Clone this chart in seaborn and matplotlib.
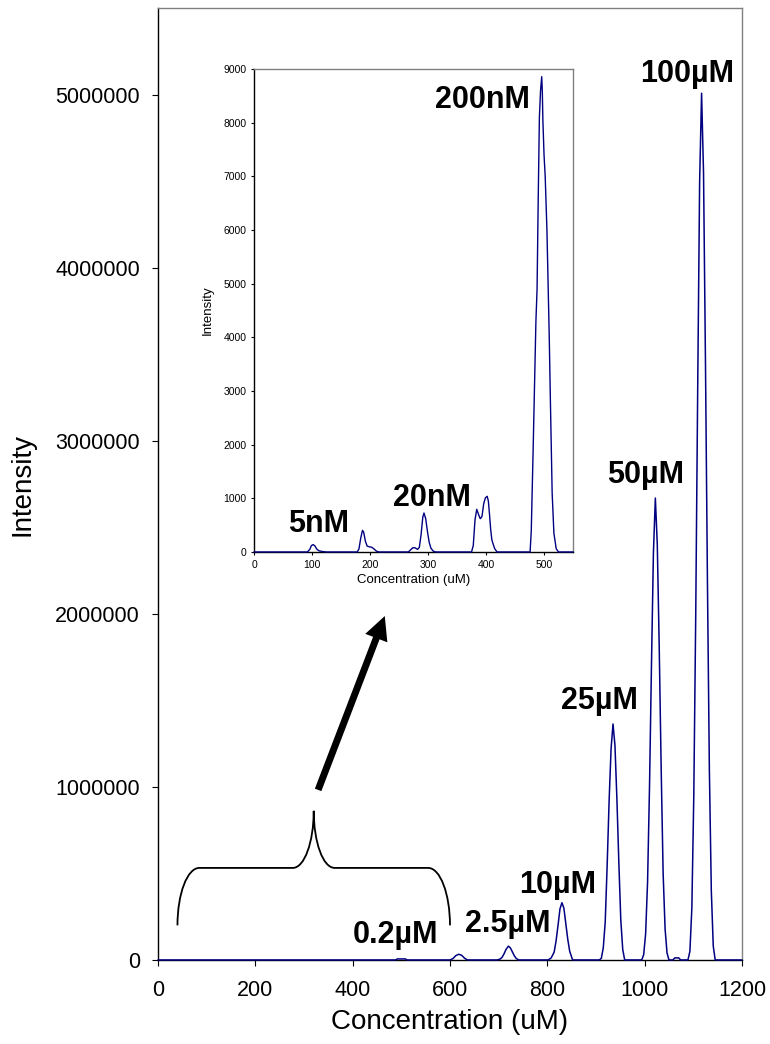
import matplotlib
matplotlib.use("Agg")
import matplotlib.pyplot as plt
import numpy as np
import pandas as pd
import seaborn as sns
from matplotlib.patches import FancyArrowPatch, PathPatch, ArrowStyle
from matplotlib.path import Path
from matplotlib.ticker import FuncFormatter

# ---------------- main electropherogram (0.2 uM .. 100 uM) ----------------
main_start_x = [0]
main_start_y = [0]
peak_02uM_x = [488, 492, 508, 512]
peak_02uM_y = [0, 6000, 6000, 0]
peak_06uM_x = [600, 606, 612, 618, 624, 630, 636]
peak_06uM_y = [0, 8000, 25000, 33000, 27000, 10000, 0]
peak_25uM_x = [697, 703, 707, 711, 715, 720, 724, 728, 732, 736, 741]
peak_25uM_y = [0, 5000, 15000, 35000, 60000, 80000, 70000, 48000, 25000, 9000, 0]
peak_10uM_x = [802, 808, 814, 818, 822, 826, 830, 834, 838, 842, 846, 852]
peak_10uM_y = [0, 12000, 45000, 110000, 200000, 295000, 331000, 300000,
               210000, 120000, 50000, 0]
peak_250uM_x = [907, 911, 915, 919, 923, 927, 931, 935, 939, 943, 947, 951,
                955, 959]
peak_250uM_y = [0, 10000, 70000, 220000, 550000, 920000, 1220000, 1364000,
                1240000, 930000, 560000, 230000, 60000, 0]
peak_500uM_x = [994, 998, 1002, 1006, 1010, 1014, 1018, 1022, 1026, 1030,
                1034, 1038, 1042, 1046, 1050]
peak_500uM_y = [0, 30000, 150000, 450000, 1000000, 1700000, 2350000, 2670000,
                2400000, 1800000, 1100000, 500000, 180000, 40000, 0]
peak_blip_x = [1058, 1062, 1070, 1074]
peak_blip_y = [0, 12000, 12000, 0]
peak_100uM_x = [1089, 1093, 1097, 1101, 1105, 1109, 1113, 1117, 1121, 1125,
                1129, 1133, 1137, 1141, 1145]
peak_100uM_y = [0, 50000, 300000, 950000, 2000000, 3300000, 4500000, 5010000,
                4550000, 3450000, 2200000, 1100000, 400000, 80000, 0]
main_end_x = [1200]
main_end_y = [0]

main_labels = ["0.2µM", "2.5µM", "10µM", "25µM", "50µM", "100µM"]
main_label_x = [489, 719, 822, 908, 1001, 1087]
main_label_y = [98000, 162000, 387000, 1451000, 2757000, 5075000]

# ---------------- inset (5 nM .. 200 nM) ----------------
inset_start_x = [0]
inset_start_y = [0]
peak_5nM_x = [92, 96, 99, 102, 105, 108, 112, 118, 125]
peak_5nM_y = [0, 45, 120, 137, 112, 55, 22, 8, 0]
peak_10nM_x = [178, 181, 184, 187, 189, 192, 195, 199, 203, 207, 211, 215]
peak_10nM_y = [0, 60, 260, 403, 370, 200, 110, 95, 88, 55, 15, 0]
peak_20nM_x = [266, 270, 274, 278, 282, 285, 288, 291, 293, 296, 299, 302,
               305, 309, 313]
peak_20nM_y = [0, 40, 80, 75, 48, 85, 320, 650, 726, 620, 380, 180, 70, 15, 0]
peak_50nM_x = [375, 378, 381, 384, 387, 390, 393, 396, 399, 402, 404, 406,
               408, 410, 412, 415, 419]
peak_50nM_y = [0, 120, 600, 795, 700, 620, 660, 900, 1010, 1037, 950, 700,
               420, 230, 155, 60, 0]
peak_200nM_x = [476, 478, 481, 484, 486, 488, 490, 492, 494, 496, 497, 498,
                500, 502, 505, 507, 509, 511, 514, 517, 521, 525]
peak_200nM_y = [0, 400, 1800, 3300, 4300, 4900, 6600, 8100, 8600, 8857, 8600,
                8050, 7400, 7000, 6000, 5000, 4000, 2800, 1100, 350, 60, 0]
inset_end_x = [550]
inset_end_y = [0]

inset_labels = ["5nM", "20nM", "200nM"]
inset_label_x = [112, 306, 393]
inset_label_y = [373, 857, 8273]

main_ticks_x = [0, 200, 400, 600, 800, 1000, 1200]
main_ticks_y = [0, 1000000, 2000000, 3000000, 4000000, 5000000]
inset_ticks_x = [0, 100, 200, 300, 400, 500]
inset_ticks_y = [0, 1000, 2000, 3000, 4000, 5000, 6000, 7000, 8000, 9000]

NAVY = "#000080"
GREY = "#808080"

main_df = pd.DataFrame({
    "conc": np.concatenate([main_start_x, peak_02uM_x, peak_06uM_x, peak_25uM_x,
                            peak_10uM_x, peak_250uM_x, peak_500uM_x,
                            peak_blip_x, peak_100uM_x, main_end_x]),
    "intensity": np.concatenate([main_start_y, peak_02uM_y, peak_06uM_y,
                                 peak_25uM_y, peak_10uM_y, peak_250uM_y,
                                 peak_500uM_y, peak_blip_y, peak_100uM_y,
                                 main_end_y]),
})
inset_df = pd.DataFrame({
    "conc": np.concatenate([inset_start_x, peak_5nM_x, peak_10nM_x, peak_20nM_x,
                            peak_50nM_x, peak_200nM_x, inset_end_x]),
    "intensity": np.concatenate([inset_start_y, peak_5nM_y, peak_10nM_y,
                                 peak_20nM_y, peak_50nM_y, peak_200nM_y,
                                 inset_end_y]),
})

sns.set_theme(style="white", rc={"text.color": "black",
                                 "axes.labelcolor": "black",
                                 "xtick.color": "black",
                                 "ytick.color": "black"})
plt.rcParams["font.family"] = ["Liberation Sans", "DejaVu Sans"]

fig = plt.figure(figsize=(7.7, 10.44), dpi=100)
fig.patch.set_facecolor("white")


def style_axes(ax, tick_len, tick_size):
    for side in ("left", "bottom"):
        ax.spines[side].set_color("black")
        ax.spines[side].set_linewidth(1.0)
    for side in ("top", "right"):
        ax.spines[side].set_color(GREY)
        ax.spines[side].set_linewidth(1.0)
    ax.tick_params(axis="both", which="major", direction="out", bottom=True,
                   left=True, top=False, right=False, length=tick_len,
                   width=0.8, color="black", labelsize=tick_size,
                   labelcolor="black")
    ax.grid(False)


int_fmt = FuncFormatter(lambda v, _: f"{int(round(v))}")

# main axes
ax = fig.add_axes([0.2052, 0.0805, 0.7584, 0.9114])
sns.lineplot(data=main_df, x="conc", y="intensity", estimator=None, sort=False,
             color=NAVY, linewidth=1.1, ax=ax, clip_on=False, zorder=3)
ax.set_xlim(0, 1200)
ax.set_ylim(0, 5500000)
ax.set_xticks(main_ticks_x)
ax.set_yticks(main_ticks_y)
ax.xaxis.set_major_formatter(int_fmt)
ax.yaxis.set_major_formatter(int_fmt)
style_axes(ax, 4.5, 15.5)
ax.tick_params(axis="x", pad=10)
ax.tick_params(axis="y", pad=8.5)
ax.set_xlabel("Concentration (uM)", fontsize=20, labelpad=6)
ax.set_ylabel("Intensity", fontsize=20, labelpad=14)

for txt, lx, ly in zip(main_labels, main_label_x, main_label_y):
    ax.text(lx, ly, txt, fontsize=22, fontweight="bold", ha="center",
            va="baseline", color="black", zorder=4)

# curly brace marking the low-concentration region shown in the inset
bx0, bx1, btip = 40, 600, 320
by_end, by_mid, by_tip = 200000, 532000, 862000
k = 0.552
dx_c, dy_c = 45, by_mid - by_end
dx_t, dy_t = 43, by_tip - by_mid
verts = [
    (bx0, by_end),
    (bx0, by_end + k * dy_c), (bx0 + dx_c * (1 - k), by_mid), (bx0 + dx_c, by_mid),
    (btip - dx_t, by_mid),
    (btip - dx_t * (1 - k), by_mid), (btip, by_tip - k * dy_t), (btip, by_tip),
    (btip, by_tip - k * dy_t), (btip + dx_t * (1 - k), by_mid), (btip + dx_t, by_mid),
    (bx1 - dx_c, by_mid),
    (bx1 - dx_c * (1 - k), by_mid), (bx1, by_end + k * dy_c), (bx1, by_end),
]
codes = [Path.MOVETO,
         Path.CURVE4, Path.CURVE4, Path.CURVE4,
         Path.LINETO,
         Path.CURVE4, Path.CURVE4, Path.CURVE4,
         Path.CURVE4, Path.CURVE4, Path.CURVE4,
         Path.LINETO,
         Path.CURVE4, Path.CURVE4, Path.CURVE4]
ax.add_patch(PathPatch(Path(verts, codes), facecolor="none", edgecolor="black",
                       linewidth=1.3, zorder=4, clip_on=False))

arrow = FancyArrowPatch(posA=(329, 983000), posB=(466, 1988000),
                        arrowstyle=ArrowStyle("simple", head_length=17,
                                              head_width=17, tail_width=5),
                        mutation_scale=1, shrinkA=0, shrinkB=0,
                        facecolor="black", edgecolor="black", linewidth=0,
                        zorder=4)
ax.add_patch(arrow)

# inset axes
axi = fig.add_axes([0.3299, 0.4713, 0.4143, 0.4626])
axi.set_facecolor("white")
sns.lineplot(data=inset_df, x="conc", y="intensity", estimator=None, sort=False,
             color=NAVY, linewidth=1.0, ax=axi, clip_on=False, zorder=3)
axi.set_xlim(0, 550)
axi.set_ylim(0, 9000)
axi.set_xticks(inset_ticks_x)
axi.set_yticks(inset_ticks_y)
axi.xaxis.set_major_formatter(int_fmt)
axi.yaxis.set_major_formatter(int_fmt)
style_axes(axi, 2.5, 7.5)
axi.tick_params(axis="both", pad=3)
axi.set_xlabel("Concentration (uM)", fontsize=9.5, labelpad=3)
axi.set_ylabel("Intensity", fontsize=9.5, labelpad=7)

for txt, lx, ly in zip(inset_labels, inset_label_x, inset_label_y):
    axi.text(lx, ly, txt, fontsize=22, fontweight="bold", ha="center",
             va="baseline", color="black", zorder=4)

fig.savefig("out.png", dpi=100, facecolor="white")
